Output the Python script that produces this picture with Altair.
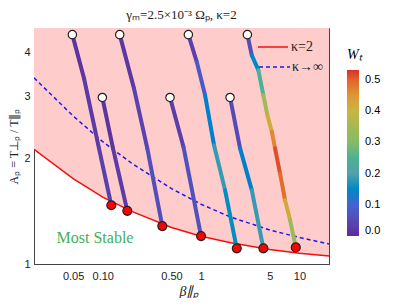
import altair as alt
import pandas as pd

# ---- data ----
beta_grid = [0.02, 0.05, 0.1, 0.2, 0.5, 1, 2, 5, 10, 20]
kappa2 = [2.12, 1.75, 1.55, 1.41, 1.27, 1.20, 1.15, 1.10, 1.073, 1.054]
kappa_inf = [3.39, 2.64, 2.23, 1.93, 1.64, 1.48, 1.36, 1.25, 1.19, 1.14]
a_top = 4.7

traj_beta = [
    [0.0491, 0.0645, 0.0916, 0.1222],
    [0.0991, 0.1272, 0.1778],
    [0.1489, 0.208, 0.284, 0.4036],
    [0.4834, 0.664, 1.0],
    [0.743, 0.904, 1.098, 1.356, 1.754, 2.307],
    [1.972, 2.493, 3.28, 4.30],
    [2.958, 3.28, 3.826, 4.30, 4.725, 5.24, 5.66, 6.36, 7.15, 8.04, 9.19],
]
traj_A = [
    [4.50, 3.38, 2.135, 1.47],
    [2.98, 2.135, 1.417],
    [4.50, 3.16, 2.135, 1.282],
    [2.98, 2.15, 1.201],
    [4.50, 3.766, 3.027, 2.178, 1.623, 1.108],
    [2.98, 2.135, 1.623, 1.108],
    [4.50, 3.932, 3.565, 3.027, 2.656, 2.382, 2.135, 1.81, 1.52, 1.334, 1.115],
]
traj_W = [
    [0.01, 0.02, 0.03, 0.04],
    [0.01, 0.02, 0.03],
    [0.01, 0.03, 0.05, 0.07],
    [0.01, 0.05, 0.08],
    [0.01, 0.06, 0.10, 0.17, 0.20, 0.12],
    [0.01, 0.10, 0.17, 0.20],
    [0.02, 0.10, 0.20, 0.30, 0.38, 0.45, 0.50, 0.53, 0.46, 0.38, 0.28],
]

w_stops = [0, 0.1, 0.2, 0.3, 0.4, 0.47, 0.532]
w_colors = ["#5e2c96", "#4463d0", "#52a0ac", "#86ba66", "#c8b545", "#e48b35", "#d9302a"]

annotation = ["Most Stable"]
legend_labels = ["κ=2", "κ→∞"]

SERIF = "'Liberation Serif', 'Times New Roman', serif"
SANS = "'Liberation Sans', Arial, sans-serif"

# ---- tables ----
curves = pd.DataFrame({"beta": beta_grid, "k2": kappa2, "kinf": kappa_inf,
                       "top": [a_top] * len(beta_grid)})

segs, starts, ends = [], [], []
for bs, As, Ws in zip(traj_beta, traj_A, traj_W):
    for i in range(len(bs) - 1):
        segs.append({"x": bs[i], "y": As[i], "x2": bs[i + 1], "y2": As[i + 1],
                     "w": (Ws[i] + Ws[i + 1]) / 2})
    starts.append({"x": bs[0], "y": As[0]})
    ends.append({"x": bs[-1], "y": As[-1]})
segs = pd.DataFrame(segs)
starts = pd.DataFrame(starts)
ends = pd.DataFrame(ends)
one = pd.DataFrame({"t": annotation})
leg1 = pd.DataFrame({"t": [legend_labels[0]]})
leg2 = pd.DataFrame({"t": [legend_labels[1]]})

xscale = alt.Scale(type="log", domain=[0.02, 20], nice=False)
yscale = alt.Scale(type="log", domain=[1, a_top], nice=False)

xaxis = alt.Axis(values=[0.05, 0.1, 0.5, 1, 5, 10],
                 labelExpr="datum.value==0.1 ? '0.10' : (datum.value==0.5 ? '0.50' : datum.label)",
                 title="β∥ₚ", titleFont=SERIF, titleFontStyle="italic",
                 titleFontSize=14, titleFontWeight="normal", titleX=155, titlePadding=3,
                 ticks=False, labelPadding=6, grid=False, labelFlush=False)
yaxis = alt.Axis(values=[1, 2, 3, 4], title="Aₚ = T⊥ₚ / T∥ₚ",
                 titleFont=SERIF, titleFontSize=12, titleFontWeight="normal",
                 ticks=False, labelPadding=4, grid=False, titlePadding=3)

X = lambda f: alt.X(f, type="quantitative", scale=xscale, axis=xaxis)
Y = lambda f: alt.Y(f, type="quantitative", scale=yscale, axis=yaxis)

area = alt.Chart(curves).mark_area(color="#ffcccc", opacity=1, clip=True).encode(
    x=X("beta"), y=Y("k2"), y2="top")

red = alt.Chart(curves).mark_line(color="#ee1111", strokeWidth=1.5, clip=True).encode(
    x=X("beta"), y=Y("k2"))
blue = alt.Chart(curves).mark_line(color="#1a1aee", strokeWidth=1.5, strokeDash=[4, 3], clip=True).encode(
    x=X("beta"), y=Y("kinf"))

traj = alt.Chart(segs).mark_rule(strokeWidth=4, strokeCap="round").encode(
    x=X("x"), y=Y("y"), x2="x2", y2="y2",
    color=alt.Color("w:Q", scale=alt.Scale(domain=w_stops, range=w_colors),
                    legend=alt.Legend(title="Wₜ", orient="none", legendX=313, legendY=20,
                                      values=[0, 0.1, 0.2, 0.3, 0.4, 0.5],
                                      gradientLength=166, gradientThickness=12,
                                      gradientStrokeWidth=0,
                                      titleFont=SERIF, titleFontStyle="italic",
                                      titleFontWeight="normal", titleFontSize=14,
                                      titlePadding=8, labelFontSize=11,
                                      labelFont=SANS, labelOffset=6)))

start_pts = alt.Chart(starts).mark_point(shape="circle", filled=True, fill="white",
                                          stroke="#222", strokeWidth=1.2, size=70, opacity=1).encode(
    x=X("x"), y=Y("y"))
end_pts = alt.Chart(ends).mark_point(shape="circle", filled=True, fill="#ff0000",
                                      stroke="#222", strokeWidth=1.2, size=80, opacity=1).encode(
    x=X("x"), y=Y("y"))

most = alt.Chart(one).mark_text(font=SERIF, fontSize=16, fontWeight="normal",
                                color="#44b060", align="center", baseline="middle").encode(
    text="t:N", x=alt.value(61), y=alt.value(210))

leg_red = alt.Chart(leg1).mark_rule(color="#ee1111", strokeWidth=1.5).encode(
    x=alt.value(224), x2=alt.value(254), y=alt.value(19))
leg_blue = alt.Chart(leg2).mark_rule(color="#1a1aee", strokeWidth=1.5, strokeDash=[4, 3]).encode(
    x=alt.value(225), x2=alt.value(256), y=alt.value(39))
leg_t1 = alt.Chart(leg1).mark_text(font=SERIF, fontSize=14, fontWeight="normal",
                                   align="left", baseline="middle", color="#222").encode(
    text="t:N", x=alt.value(257), y=alt.value(19))
leg_t2 = alt.Chart(leg2).mark_text(font=SERIF, fontSize=14, fontWeight="normal",
                                   align="left", baseline="middle", color="#222").encode(
    text="t:N", x=alt.value(258), y=alt.value(39))

chart = alt.layer(area, red, blue, traj, start_pts, end_pts, most,
                  leg_red, leg_blue, leg_t1, leg_t2).properties(
    width=295, height=236,
    title=alt.Title("γₘ=2.5×10⁻³ Ωₚ, κ=2", font=SERIF, fontSize=13,
                    fontWeight="normal", color="#222", offset=6),
    autosize=alt.AutoSizeParams(type="none"),
    padding={"left": 26, "top": 20, "right": 62, "bottom": 34},
).configure_view(stroke="#444", strokeWidth=1).configure_axis(
    domainColor="#444", labelFont=SANS, labelFontSize=11, labelColor="#222",
    titleColor="#222")

chart.save("out.html", embed_options={"renderer": "svg", "actions": False})
